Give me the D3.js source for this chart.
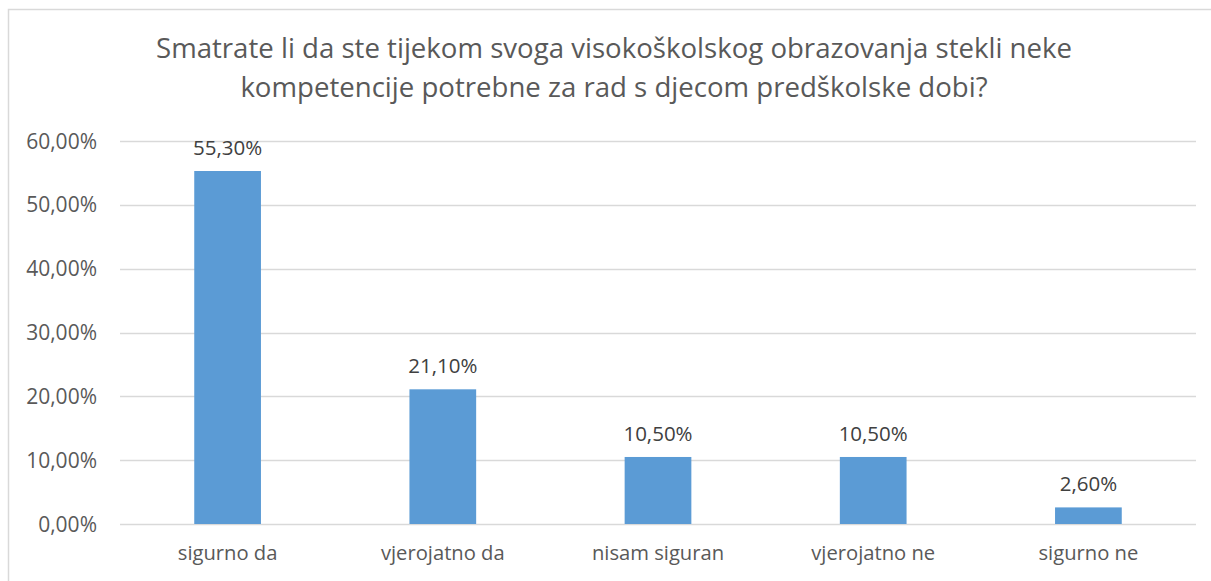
<!DOCTYPE html>
<html>
<head>
<meta charset="utf-8">
<script src="https://cdn.jsdelivr.net/npm/d3@7"></script>
<style>
  body { margin: 0; background: #fff; }
  text { font-family: "Open Sans", sans-serif; }
</style>
</head>
<body>
<div id="chart"></div>
<script>
var width = 1211;
var height = 581;

// data
var categories = ["sigurno da", "vjerojatno da", "nisam siguran", "vjerojatno ne", "sigurno ne"];
var values = [0.553, 0.211, 0.105, 0.105, 0.026];
var yTicks = [0, 0.1, 0.2, 0.3, 0.4, 0.5, 0.6];
var titleLines = [
  "Smatrate li da ste tijekom svoga visokoškolskog obrazovanja stekli neke",
  "kompetencije potrebne za rad s djecom predškolske dobi?"
];

var hr = d3.formatLocale({decimal: ",", thousands: ".", grouping: [3], currency: ["", " kn"]});
var pct = hr.format(".2%");

var svg = d3.select("#chart")
    .append("svg")
    .attr("width", width)
    .attr("height", height);

// chart frame (left + top edge visible)
svg.append("path")
    .attr("d", "M8.5,581 L8.5,9.5 L1211,9.5")
    .attr("fill", "none")
    .attr("stroke", "#d9d9d9")
    .attr("stroke-width", 1.5);

var x = d3.scaleBand()
    .domain(categories)
    .range([120, 1196])
    .paddingInner(0.69)
    .paddingOuter(0.345);

var y = d3.scaleLinear()
    .domain([0, 0.6])
    .range([524, 141]);

// gridlines
svg.append("g")
  .selectAll("line")
  .data(yTicks)
  .enter().append("line")
    .attr("x1", 120)
    .attr("x2", 1196)
    .attr("y1", function(d) { return Math.round(y(d)) + 0.5; })
    .attr("y2", function(d) { return Math.round(y(d)) + 0.5; })
    .attr("stroke", "#d9d9d9")
    .attr("stroke-width", 1.5);

// y tick labels
svg.append("g")
  .selectAll("text")
  .data(yTicks)
  .enter().append("text")
    .attr("x", 97)
    .attr("y", function(d) { return y(d); })
    .attr("dy", "0.36em")
    .attr("text-anchor", "end")
    .attr("font-size", 21)
    .attr("fill", "#595959")
    .text(function(d) { return pct(d); });

// bars
svg.append("g")
  .selectAll("rect")
  .data(values)
  .enter().append("rect")
    .attr("x", function(d, i) { return x(categories[i]); })
    .attr("y", function(d) { return y(d); })
    .attr("width", x.bandwidth())
    .attr("height", function(d) { return y(0) - y(d); })
    .attr("fill", "#5b9bd5");

// value labels
svg.append("g")
  .selectAll("text")
  .data(values)
  .enter().append("text")
    .attr("x", function(d, i) { return x(categories[i]) + x.bandwidth() / 2; })
    .attr("y", function(d) { return y(d) - 16; })
    .attr("text-anchor", "middle")
    .attr("font-size", 20.5)
    .attr("fill", "#404040")
    .text(function(d) { return pct(d); });

// category labels
svg.append("g")
  .selectAll("text")
  .data(categories)
  .enter().append("text")
    .attr("x", function(d) { return x(d) + x.bandwidth() / 2; })
    .attr("y", 560)
    .attr("text-anchor", "middle")
    .attr("font-size", 20.2)
    .attr("fill", "#595959")
    .text(function(d) { return d; });

// title
svg.append("g")
  .selectAll("text")
  .data(titleLines)
  .enter().append("text")
    .attr("x", 614)
    .attr("y", function(d, i) { return 58 + i * 39; })
    .attr("text-anchor", "middle")
    .attr("font-size", 27.6)
    .attr("fill", "#595959")
    .text(function(d) { return d; });
</script>
</body>
</html>
